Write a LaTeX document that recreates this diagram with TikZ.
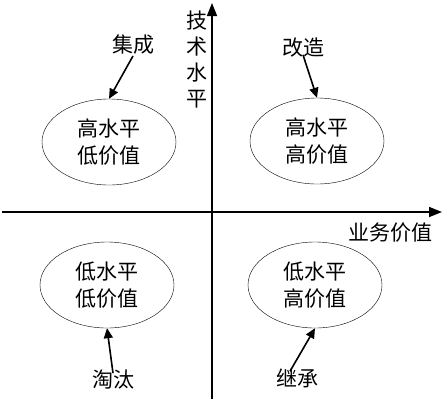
\documentclass[tikz,border=0pt]{standalone}
\usepackage{fontspec}
\setmainfont{Noto Sans CJK SC}
\usepackage{tikz}
\usetikzlibrary{shapes.geometric,arrows.meta,positioning}

\begin{document}
\begin{tikzpicture}[x=1pt,y=-1pt,font=\fontsize{21}{27}\selectfont,
  quad/.style={draw,ellipse,thin,align=center,minimum width=134pt,minimum height=86pt,inner sep=0pt},
  lbl/.style={inner sep=1pt},
  arr/.style={-{Triangle[length=10pt,width=9pt]},line width=1.6pt},
  axis/.style={-{Triangle[length=13pt,width=10pt]},line width=1.6pt}]
\useasboundingbox (0,0) rectangle (446,402);
% axes
\coordinate (xs) at (2,212);
\coordinate (xe) at (442,212);
\coordinate (ys) at (212,399);
\coordinate (ye) at (212,3);
\draw[axis] (xs) -- (xe);
\draw[axis] (ys) -- (ye);
\node[lbl] (xl) at (390,233) {业务价值};
\node[lbl,align=center,font=\fontsize{21}{26}\selectfont] (yl) at (197,60) {技\\术\\水\\平};
% quadrants
\node[quad] (e1) at (109,142) {高水平\\低价值};
\node[quad] (e2) at (317,141) {高水平\\高价值};
\node[quad] (e3) at (107,285) {低水平\\低价值};
\node[quad] (e4) at (315,285) {低水平\\高价值};
% labels
\node[lbl] (jc) at (133,45) {集成};
\node[lbl] (gz) at (303,48) {改造};
\node[lbl] (tt) at (113,380) {淘汰};
\node[lbl] (jx) at (297,378) {继承};
\draw[arr] (jc.south) -- (e1.north);
\draw[arr] ([yshift=4pt]gz.south) -- (e2.north);
\draw[arr] ([yshift=-4pt]tt.north) -- (e3.south);
\draw[arr] ([xshift=-7pt,yshift=-4pt]jx.north) -- (e4.south);
\end{tikzpicture}
\end{document}
